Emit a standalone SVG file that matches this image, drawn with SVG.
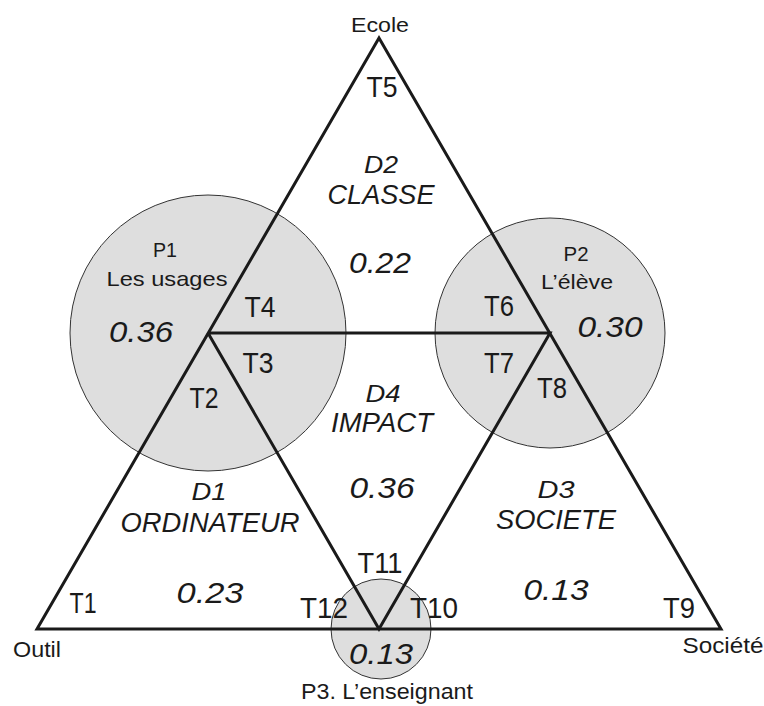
<svg xmlns="http://www.w3.org/2000/svg" width="764" height="706" viewBox="0 0 764 706">
<style>
text{font-family:"Liberation Sans",Arial,sans-serif;fill:#1a1a1a;text-anchor:middle}
.t{font-size:30px}
.lbl{font-size:21px}
.d{font-size:23px;font-style:italic}
.n{font-size:27px;font-style:italic}
.v{font-size:30px;font-style:italic}
.circ{fill:#dedede;stroke:#333;stroke-width:1}
.ln{stroke:#1a1a1a;stroke-width:3;fill:none;stroke-linejoin:miter}
</style>
<rect width="764" height="706" fill="#fff"/>
<g id="p1">
<circle class="circ" cx="208" cy="333" r="138"/>
<text class="lbl" x="165" y="257" textLength="24" lengthAdjust="spacingAndGlyphs">P1</text>
<text class="lbl" x="167" y="286" textLength="121" lengthAdjust="spacingAndGlyphs">Les usages</text>
<text class="v" x="141" y="342" textLength="64" lengthAdjust="spacingAndGlyphs">0.36</text>
</g>
<g id="p2">
<circle class="circ" cx="550" cy="333" r="115"/>
<text class="lbl" x="576" y="261" textLength="25" lengthAdjust="spacingAndGlyphs">P2</text>
<text class="lbl" x="577" y="289" textLength="72" lengthAdjust="spacingAndGlyphs">L’élève</text>
<text class="v" x="610" y="337" textLength="65" lengthAdjust="spacingAndGlyphs">0.30</text>
</g>
<g id="p3">
<circle class="circ" cx="381" cy="629" r="50"/>
<text class="v" x="381" y="664" textLength="64" lengthAdjust="spacingAndGlyphs">0.13</text>
<text class="lbl" x="387" y="699" style="font-size:22px" textLength="172" lengthAdjust="spacingAndGlyphs">P3. L’enseignant</text>
</g>
<g id="connectors">
<polygon class="ln" points="379,38 37,629 721,629"/>
<polyline class="ln" points="208,333 550,333 379,629 208,333"/>
</g>
<g id="ecole"><text class="lbl" x="380" y="32" textLength="58" lengthAdjust="spacingAndGlyphs">Ecole</text></g>
<g id="outil"><text class="lbl" x="37" y="657" style="font-size:22px" textLength="48" lengthAdjust="spacingAndGlyphs">Outil</text></g>
<g id="societe"><text class="lbl" x="723" y="653" style="font-size:22px" textLength="81" lengthAdjust="spacingAndGlyphs">Société</text></g>
<g id="d2">
<text class="d" x="381" y="173" textLength="34" lengthAdjust="spacingAndGlyphs">D2</text>
<text class="n" x="381" y="204" textLength="107" lengthAdjust="spacingAndGlyphs">CLASSE</text>
<text class="v" x="380" y="273" textLength="62" lengthAdjust="spacingAndGlyphs">0.22</text>
</g>
<g id="d4">
<text class="d" x="383" y="402" textLength="35" lengthAdjust="spacingAndGlyphs">D4</text>
<text class="n" x="382" y="432" textLength="102" lengthAdjust="spacingAndGlyphs">IMPACT</text>
<text class="v" x="382" y="498" textLength="65" lengthAdjust="spacingAndGlyphs">0.36</text>
</g>
<g id="d1">
<text class="d" x="209" y="500" textLength="35" lengthAdjust="spacingAndGlyphs">D1</text>
<text class="n" x="210" y="532" textLength="179" lengthAdjust="spacingAndGlyphs">ORDINATEUR</text>
<text class="v" x="210" y="603" textLength="67" lengthAdjust="spacingAndGlyphs">0.23</text>
</g>
<g id="d3">
<text class="d" x="556" y="498" textLength="37" lengthAdjust="spacingAndGlyphs">D3</text>
<text class="n" x="556" y="529" textLength="120" lengthAdjust="spacingAndGlyphs">SOCIETE</text>
<text class="v" x="556" y="600" textLength="65" lengthAdjust="spacingAndGlyphs">0.13</text>
</g>
<g id="tlabels">
<text class="t" x="382" y="97" textLength="31" lengthAdjust="spacingAndGlyphs">T5</text>
<text class="t" x="260" y="317" textLength="31" lengthAdjust="spacingAndGlyphs">T4</text>
<text class="t" x="258" y="373" textLength="31" lengthAdjust="spacingAndGlyphs">T3</text>
<text class="t" x="204" y="408" textLength="29" lengthAdjust="spacingAndGlyphs">T2</text>
<text class="t" x="499" y="316" textLength="30" lengthAdjust="spacingAndGlyphs">T6</text>
<text class="t" x="499" y="373" textLength="30" lengthAdjust="spacingAndGlyphs">T7</text>
<text class="t" x="552" y="398" textLength="30" lengthAdjust="spacingAndGlyphs">T8</text>
<text class="t" x="380" y="573" textLength="45" lengthAdjust="spacingAndGlyphs">T11</text>
<text class="t" x="324" y="618" textLength="48" lengthAdjust="spacingAndGlyphs">T12</text>
<text class="t" x="434" y="618" textLength="48" lengthAdjust="spacingAndGlyphs">T10</text>
<text class="t" x="83" y="613" textLength="27" lengthAdjust="spacingAndGlyphs">T1</text>
<text class="t" x="679" y="618" textLength="32" lengthAdjust="spacingAndGlyphs">T9</text>
</g>
</svg>
